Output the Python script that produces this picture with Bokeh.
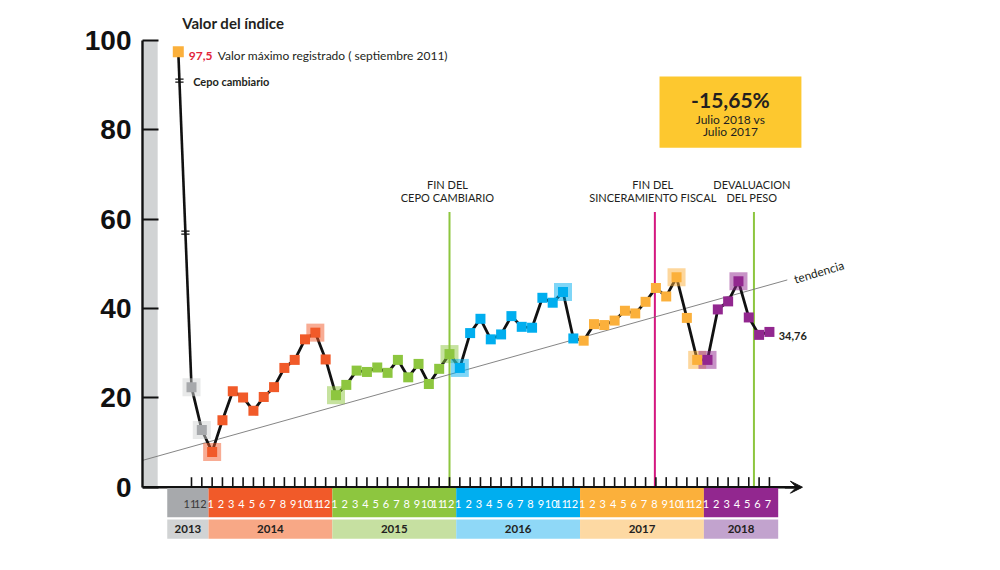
import math
import numpy as np
from bokeh.plotting import figure
from bokeh.models import (Range1d, LinearAxis, FixedTicker, Label, ColumnDataSource,
                          Arrow, VeeHead)
from bokeh.core.properties import value
from bokeh.embed import file_html
from bokeh.resources import INLINE

# ---------------------------------------------------------------- data
years = ["2013", "2014", "2015", "2016", "2017", "2018"]
months_by_year = [
    [11, 12],
    list(range(1, 13)),
    list(range(1, 13)),
    list(range(1, 13)),
    list(range(1, 13)),
    list(range(1, 8)),
]
values_2013 = [22.4, 12.8]
values_2014 = [7.9, 15.0, 21.5, 20.1, 17.1, 20.2, 22.4, 26.7, 28.5, 33.1, 34.6, 28.6]
values_2015 = [20.6, 22.9, 26.1, 25.8, 26.8, 25.6, 28.5, 24.6, 27.6, 23.1, 26.5, 29.8]
values_2016 = [26.7, 34.5, 37.7, 33.1, 34.2, 38.3, 35.9, 35.7, 42.4, 41.3, 43.7, 33.3]
values_2017 = [32.8, 36.5, 36.3, 37.3, 39.5, 38.9, 41.5, 44.6, 42.7, 47.0, 37.9, 28.5]
values_2018 = [28.5, 39.8, 41.6, 46.1, 38.0, 34.1, 34.76]
values_by_year = [values_2013, values_2014, values_2015, values_2016, values_2017, values_2018]

peak_value = 97.5          # septiembre 2011
last_value_label = "34,76"
trend_values = [6.0, 46.4]  # tendencia, start / end

y_ticks = [0, 20, 40, 60, 80, 100]

events = [  # (year, month position, line 1, line 2, colour)
    (2015, 12.0, "FIN DEL", "CEPO CAMBIARIO", "#8dc63f"),
    (2017, 7.9, "FIN DEL", "SINCERAMIENTO FISCAL", "#d4177f"),
    (2018, 5.5, "DEVALUACION", "DEL PESO", "#8dc63f"),
]

year_colors = ["#a7a9ac", "#f15a29", "#8dc63f", "#00aeef", "#fbb03b", "#92278f"]
year_light = ["#d1d3d4", "#f8a886", "#c6e0a1", "#8fd8f7", "#fdd9a3", "#c2a3ce"]
halo_colors = ["#d1d3d4", "#f15a29", "#8dc63f", "#00aeef", "#fbb03b", "#92278f"]
month_text_colors = ["#3a3a3a", "white", "white", "white", "white", "white"]

# ---------------------------------------------------------------- geometry
PX_MONTH = 10.32
PX_UNIT = 4.467
W, H = 1000, 570
LEFT = 142
X0 = (LEFT - 191) / PX_MONTH
X1 = X0 + (W - LEFT) / PX_MONTH
Y1 = 486.7 / PX_UNIT
Y0 = Y1 - H / PX_UNIT


def month_index(year, month):
    return (year - 2013) * 12 + month - 11


xs, ys, cols, halo_x, halo_y, halo_c = [], [], [], [], [], []
for k, (yr, mlist, vals) in enumerate(zip(years, months_by_year, values_by_year)):
    idx = [month_index(int(yr), m) for m in mlist]
    xs += idx
    ys += vals
    cols += [year_colors[k]] * len(vals)
    # yearly minimum and maximum get a highlight square
    for j in sorted({int(np.argmin(vals)), int(np.argmax(vals))}):
        halo_x.append(idx[j])
        halo_y.append(vals[j])
        halo_c.append(halo_colors[k])

p = figure(width=W, height=H, x_range=Range1d(X0, X1), y_range=Range1d(Y0, Y1),
           x_axis_type=None, y_axis_type=None, output_backend="svg",
           toolbar_location=None, min_border_left=LEFT, min_border_right=0,
           min_border_top=0, min_border_bottom=0)
p.outline_line_color = None
p.background_fill_color = "white"
p.border_fill_color = "white"

# grey strip along the value axis
p.quad(left=[X0 + 0.07], right=[X0 + 1.47], bottom=[0], top=[100],
       fill_color="#d1d3d4", line_color=None)

yaxis = LinearAxis(ticker=FixedTicker(ticks=y_ticks), bounds=(0, 100),
                   axis_line_width=2.4, axis_line_color="#111111",
                   major_tick_in=16, major_tick_out=0, major_tick_line_width=2,
                   major_tick_line_color="#111111", minor_tick_line_color=None,
                   major_label_standoff=11,
                   major_label_text_font="Liberation Sans",
                   major_label_text_font_style="bold",
                   major_label_text_font_size="28px",
                   major_label_text_color="#111111")
p.add_layout(yaxis, "left")

# event lines and captions
for yr, mpos, l1, l2, c in events:
    ex = month_index(yr, mpos)
    p.segment(x0=[ex], y0=[0], x1=[ex], y1=[61.6], line_color=c, line_width=2)
    for txt, ty in ((l1, 67.7), (l2, 64.8)):
        p.add_layout(Label(x=ex - 0.2, y=ty, text=txt, text_align="center",
                           text_baseline="middle", text_font="Lato",
                           text_font_size="11px", text_color="#231f20"))

# trend line
p.line(x=[X0, 57.73], y=trend_values, line_color="#777777", line_width=0.9)
p.add_layout(Label(x=58.4, y=46.5, text="tendencia", angle=0.29, text_font="Lato",
                   text_font_size="12px", text_color="#231f20",
                   text_baseline="alphabetic"))

# bottom axis with month ticks and arrow
p.segment(x0=[X0], y0=[0], x1=[59.0], y1=[0], line_color="#111111", line_width=2.4)
p.add_layout(Arrow(end=VeeHead(size=12, fill_color="#111111", line_color="#111111"),
                   x_start=57.5, y_start=0, x_end=59.2, y_end=0,
                   line_color="#111111", line_width=2.4))
p.segment(x0=xs, y0=[0] * len(xs), x1=xs, y1=[2.25] * len(xs),
          line_color="#111111", line_width=1.6)

# month and year bands
band_edges = [-2.35, 1.65, 13.65, 25.65, 37.65, 49.65, 56.85]
p.quad(left=band_edges[:-1], right=band_edges[1:], top=[-0.2] * 6, bottom=[-6.72] * 6,
       fill_color=year_colors, line_color=None)
p.quad(left=band_edges[:-1], right=band_edges[1:], top=[-7.23] * 6, bottom=[-11.55] * 6,
       fill_color=year_light, line_color=None)
month_src = ColumnDataSource(dict(
    x=[x - 0.15 for x in xs], y=[-3.65] * len(xs),
    t=[str(m) for ml in months_by_year for m in ml],
    c=[month_text_colors[k] for k, ml in enumerate(months_by_year) for _ in ml]))
p.text(x="x", y="y", text="t", source=month_src, text_color="c",
       text_align="center", text_baseline="middle",
       text_font=value("Lato"), text_font_size="11px")
p.text(x=[(a + b) / 2 for a, b in zip(band_edges[:-1], band_edges[1:])],
       y=[-9.35] * 6, text=years, text_color="#231f20",
       text_align="center", text_baseline="middle", text_font=value("Lato"),
       text_font_style="bold", text_font_size="11.5px")

# index line: maximum (septiembre 2011) joined across the break to the series
PEAK_X = -1.28
p.line(x=[PEAK_X, xs[0]], y=[peak_value, ys[0]], line_color="#111111", line_width=2.6)
p.line(x=xs, y=ys, line_color="#111111", line_width=2.8, line_join="round")

# break marks on the joining segment
for hv in (91.0, 57.0):
    f = (peak_value - hv) / (peak_value - ys[0])
    hx = PEAK_X + f * (xs[0] - PEAK_X)
    p.segment(x0=[hx - 0.4, hx - 0.4], y0=[hv + 0.34, hv - 0.34],
              x1=[hx + 0.4, hx + 0.4], y1=[hv + 0.34, hv - 0.34],
              line_color="#111111", line_width=1.3)

# highlight squares for yearly extremes, then the points
p.scatter(x=halo_x, y=halo_y, marker="square", size=18, fill_color=halo_c,
          fill_alpha=0.5, line_color=None)
p.scatter(x=xs, y=ys, marker="square", size=10, fill_color=cols, line_color=None)
p.scatter(x=[PEAK_X], y=[peak_value], marker="square", size=11,
          fill_color="#fbb03b", line_color=None)

# texts
p.add_layout(Label(x=-0.9, y=103.9, text="Valor del índice", text_font="Lato",
                   text_font_style="bold", text_font_size="15px",
                   text_color="#231f20", text_baseline="middle"))
p.add_layout(Label(x=-0.27, y=96.6, text="97,5", text_font="Lato",
                   text_font_style="bold", text_font_size="12px",
                   text_color="#e2243a", text_baseline="middle"))
p.add_layout(Label(x=2.55, y=96.6, text="Valor máximo registrado ( septiembre 2011)",
                   text_font="Lato", text_font_size="12px",
                   text_color="#231f20", text_baseline="middle"))
p.add_layout(Label(x=0.16, y=90.9, text="Cepo cambiario", text_font="Lato",
                   text_font_style="bold", text_font_size="11px",
                   text_color="#231f20", text_baseline="middle"))
p.add_layout(Label(x=xs[-1] + 0.9, y=ys[-1] - 1.0, text=last_value_label,
                   text_font="Lato", text_font_style="bold", text_font_size="11px",
                   text_color="#231f20", text_baseline="middle"))

# variation box
p.quad(left=[45.35], right=[59.1], top=[91.94], bottom=[75.98],
       fill_color="#fdc82f", line_color=None)
box_cx = (45.35 + 59.1) / 2
p.add_layout(Label(x=box_cx, y=86.7, text="-15,65%", text_align="center",
                   text_baseline="middle", text_font="Lato", text_font_style="bold",
                   text_font_size="21px", text_color="#231f20"))
p.add_layout(Label(x=box_cx, y=82.3, text="Julio 2018 vs", text_align="center",
                   text_baseline="middle", text_font="Lato",
                   text_font_size="12px", text_color="#231f20"))
p.add_layout(Label(x=box_cx, y=79.6, text="Julio 2017", text_align="center",
                   text_baseline="middle", text_font="Lato",
                   text_font_size="12px", text_color="#231f20"))

open("out.html", "w").write(file_html(p, INLINE))
